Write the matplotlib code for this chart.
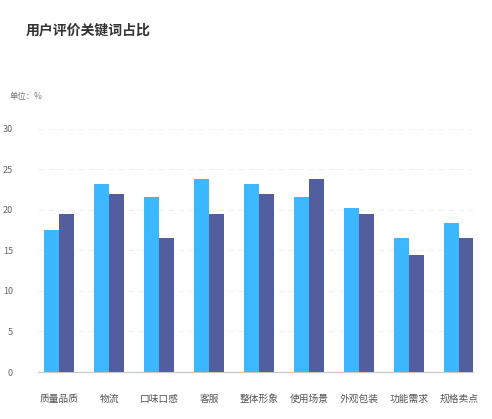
import numpy as np
import matplotlib.pyplot as plt

plt.rcParams['font.family'] = ['Noto Sans CJK SC', 'DejaVu Sans']

categories = ['质量品质', '物流', '口味口感', '客服', '整体形象', '使用场景', '外观包装', '功能需求', '规格卖点']
series_a = [17.5, 23.2, 21.6, 23.8, 23.2, 21.6, 20.2, 16.5, 18.4]
series_b = [19.5, 22.0, 16.5, 19.5, 22.0, 23.8, 19.5, 14.4, 16.5]
yticks = [0, 5, 10, 15, 20, 25, 30]

W, H = 492, 419
fig = plt.figure(figsize=(W / 100, H / 100), dpi=100)
ax = fig.add_axes([38 / W, 47 / H, 435 / W, 243.3 / H])

x = np.arange(len(categories))
bw = 0.3
ax.bar(x - bw / 2, series_a, width=bw, color='#3bb8ff', zorder=3)
ax.bar(x + bw / 2, series_b, width=bw, color='#525e9e', zorder=3)

ax.set_xlim(-0.42, 8.28)
ax.set_ylim(0, 30)
ax.set_yticks(yticks)
ax.set_yticklabels([str(v) for v in yticks])
ax.set_xticks(x)
ax.set_xticklabels(categories)

ax.grid(axis='y', color='#f0f0f0', linestyle=(0, (5, 4)), linewidth=0.8, zorder=0)
ax.grid(axis='x', visible=False)
for s in ['top', 'right', 'left']:
    ax.spines[s].set_visible(False)
ax.spines['bottom'].set_color('#cccccc')
ax.spines['bottom'].set_linewidth(1.0)

ax.tick_params(axis='y', length=0, pad=18, labelsize=6.5, labelcolor='#666666')
ax.tick_params(axis='x', length=0, pad=16, labelsize=7, labelcolor='#555555')

fig.text(26 / W, 1 - 31 / H, '用户评价关键词占比', fontsize=10, fontweight='bold',
         color='#333333', va='center', ha='left')
fig.text(10 / W, 1 - 97 / H, '单位：%', fontsize=6, color='#777777',
         va='center', ha='left')

fig.savefig('out.png', dpi=100)
